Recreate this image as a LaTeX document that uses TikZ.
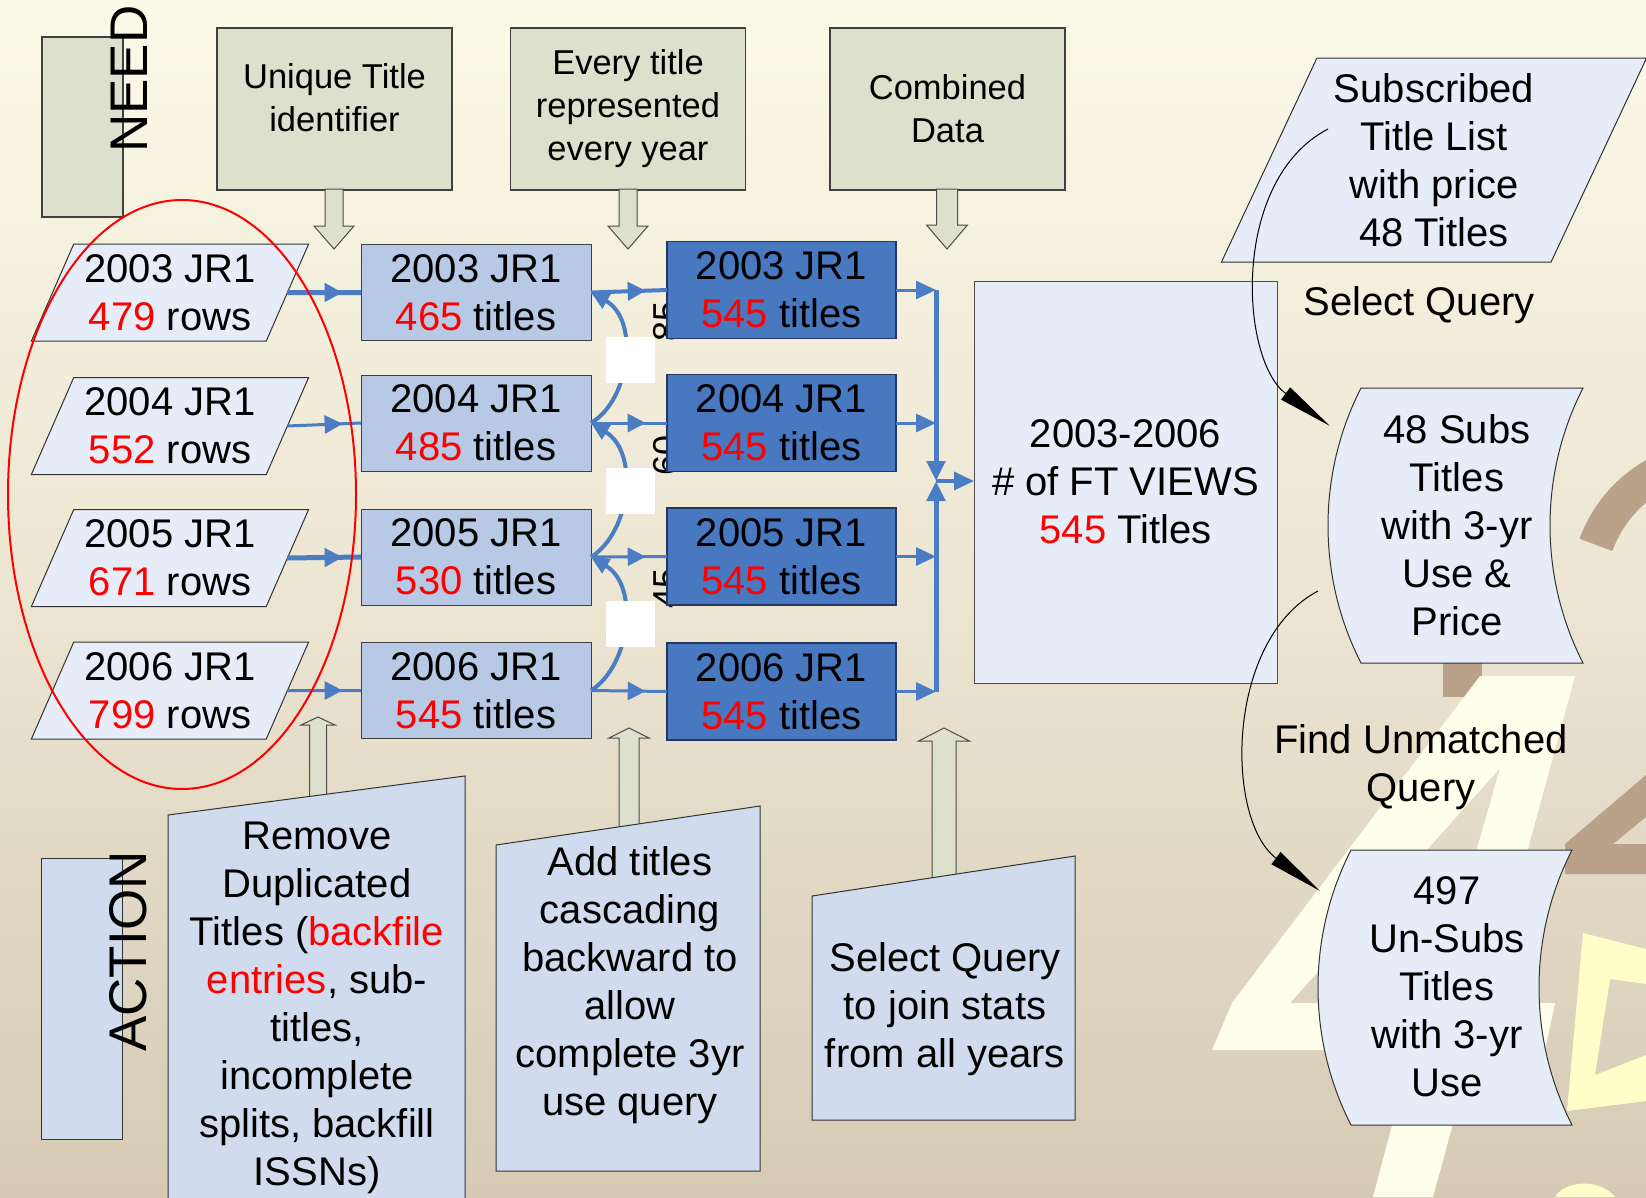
\documentclass[tikz,border=0pt]{standalone}
\usepackage{fontspec}
\setmainfont{Liberation Sans}
\usetikzlibrary{shapes.geometric,arrows.meta,decorations.markings}

\definecolor{bgtop}{RGB}{254,253,238}
\definecolor{bgupper}{RGB}{251,249,232}
\definecolor{bgmid}{RGB}{236,229,210}
\definecolor{bglow}{RGB}{214,202,180}
\definecolor{bgbot}{RGB}{196,180,158}
\definecolor{greenfill}{RGB}{221,224,204}
\definecolor{rawfill}{RGB}{230,237,248}
\definecolor{cleanfill}{RGB}{183,201,228}
\definecolor{fullfill}{RGB}{72,120,191}
\definecolor{fulledge}{RGB}{35,55,95}
\definecolor{flowblue}{RGB}{74,125,196}
\definecolor{actfill}{RGB}{208,220,238}
\definecolor{decotan}{RGB}{186,162,138}
\definecolor{decocream}{RGB}{255,254,234}
\definecolor{decoyellow}{RGB}{255,253,200}

\pgfdeclareverticalshading{bgshade}{100bp}{color(0bp)=(bgbot); color(25bp)=(bglow); color(50bp)=(bgmid); color(75bp)=(bgupper); color(100bp)=(bgtop)}

% block arrow: x, base y, head base y, tip y, shaft width, head width
\newcommand{\fatarrow}[6]{%
	\filldraw[fatarr] ({#1-#5/2},#2) -- ({#1-#5/2},#3) -- ({#1-#6/2},#3) -- (#1,#4)
		-- ({#1+#6/2},#3) -- ({#1+#5/2},#3) -- ({#1+#5/2},#2) -- cycle;}

\begin{document}
\begin{tikzpicture}[x=1pt,y=-1pt,inner sep=0pt,outer sep=0pt,
	txt/.style={font=\fontsize{40}{48}\selectfont,align=center},
	greenbox/.style={draw=black!75,line width=1.2pt,fill=greenfill,minimum width=235,minimum height=162,font=\fontsize{34.5}{43}\selectfont,align=center},
	rawbox/.style={trapezium,trapezium left angle=63.7,trapezium right angle=116.3,trapezium stretches=true,draw=black!80,line width=1pt,fill=rawfill,minimum width=278,minimum height=97,txt},
	cleanbox/.style={draw=black!75,line width=1pt,fill=cleanfill,minimum width=230,minimum height=96,txt},
	fullbox/.style={draw=fulledge,line width=1.3pt,fill=fullfill,minimum width=229,minimum height=97,txt},
	gapbox/.style={fill=white,minimum width=49,minimum height=46},
	added/.style={rotate=90,font=\fontsize{36}{40}\selectfont},
	flow/.style={draw=flowblue,line width=3pt},
	midtip/.style={postaction={decorate},decoration={markings,mark=at position #1 with {\arrow{Triangle[length=18pt,width=18pt]}}}},
	fatarr/.style={draw=black!70,line width=1pt,fill=greenfill},
	actshape/.style={draw=black!80,line width=1pt,fill=actfill},
	lightshape/.style={draw=black!80,line width=1pt,fill=rawfill},
	link/.style={draw=black,line width=1pt,-{Triangle[length=55pt,width=15pt]}}]
	\useasboundingbox (0,0) rectangle (1646,1197);
	\clip (0,0) rectangle (1646,1197);
	\shade[shading=bgshade] (0,0) rectangle (1646,1197);

	% background figures
	\draw[decotan,line width=35pt] (1720,590) ++(200:132) arc[start angle=200,end angle=280,radius=132];
	\fill[decotan] (1443,663) rectangle (1482,697);
	\fill[decotan] (1565,874) -- (1565,844) -- (1646,775) -- (1646,817) -- (1613,844) -- (1646,844) -- (1646,874) -- cycle;
	\fill[decocream,even odd rule] (1480,676) -- (1575,676) -- (1486,1003) -- (1555,1003) -- (1545,1050) -- (1473,1050)
		-- (1433,1197) -- (1373,1197) -- (1412,1050) -- (1212,1050) -- (1232,1003) -- cycle
		(1290,1003) -- (1500,768) -- (1433,1003) -- cycle;
	\fill[decoyellow] (1583,933) -- (1646,949) -- (1646,984) -- (1610,979) -- (1595,1075) -- (1646,1055)
		-- (1646,1101) -- (1567,1111) -- cycle;
	\fill[decoyellow] (1555,1197) .. controls (1565,1180) and (1600,1178) .. (1615,1197) -- cycle;

	% need row
	\node[greenbox,minimum width=81,minimum height=180] (needbox) at (82.5,127) {};
	\node[rotate=90,font=\fontsize{53}{60}\selectfont] (needtxt) at (129,79) {NEED};
	\node[greenbox,text depth=24pt] (uniq) at (334.5,109) {Unique Title\\identifier};
	\node[greenbox] (every) at (628,109) {Every title\\represented\\every year};
	\node[greenbox] (combo) at (947.5,109) {Combined\\Data};
	\fatarrow{334}{189}{226}{249}{18}{40}
	\fatarrow{628}{189}{226}{249}{18}{40}
	\fatarrow{947}{189}{225}{249}{21}{41}

	% raw reports
	\node[rawbox] (raw3) at (170,292.5) {2003 JR1\\\textcolor{red}{479} rows};
	\node[rawbox] (raw4) at (170,426) {2004 JR1\\\textcolor{red}{552} rows};
	\node[rawbox] (raw5) at (170,558) {2005 JR1\\\textcolor{red}{671} rows};
	\node[rawbox] (raw6) at (170,690.5) {2006 JR1\\\textcolor{red}{799} rows};

	% cleaned reports
	\node[cleanbox] (clean3) at (476,292.5) {2003 JR1\\\textcolor{red}{465} titles};
	\node[cleanbox] (clean4) at (476,423) {2004 JR1\\\textcolor{red}{485} titles};
	\node[cleanbox] (clean5) at (476,557) {2005 JR1\\\textcolor{red}{530} titles};
	\node[cleanbox] (clean6) at (476,690.5) {2006 JR1\\\textcolor{red}{545} titles};

	\draw[flow,line width=5pt,midtip=0.75] (raw3.east) -- (clean3.west);
	\draw[flow,midtip=0.75] (raw4.east) -- (clean4.west);
	\draw[flow,line width=5pt,midtip=0.75] (raw5.east) -- (clean5.west);
	\draw[flow,midtip=0.75] (raw6.east) -- (clean6.west);

	\draw[red,line width=2pt] (182,494.5) ellipse [x radius=174,y radius=294.5];

	% cascading backward
	\begin{scope}[flow,line width=4pt,-{Triangle[length=18pt,width=16pt]}]
	\draw (clean4.east) .. controls (630,400) and (640,320) .. (clean3.east);
	\draw (clean5.east) .. controls (630,533) and (640,453) .. (clean4.east);
	\draw (clean6.east) .. controls (630,666) and (640,586) .. (clean5.east);
	\end{scope}
	\node[gapbox] (gap1) at (630.5,360) {};
	\node[gapbox] (gap2) at (630.5,490.5) {};
	\node[gapbox] (gap3) at (630.5,624) {};
	\node[added] (add3) at (666,321) {85};
	\node[added] (add4) at (666,455) {60};
	\node[added] (add5) at (666,588) {45};

	% full reports
	\node[fullbox] (full3) at (781.5,290) {2003 JR1\\\textcolor{red}{545} titles};
	\node[fullbox] (full4) at (781.5,423) {2004 JR1\\\textcolor{red}{545} titles};
	\node[fullbox] (full5) at (781.5,556.5) {2005 JR1\\\textcolor{red}{545} titles};
	\node[fullbox] (full6) at (781.5,691.5) {2006 JR1\\\textcolor{red}{545} titles};

	\draw[flow,line width=4pt,midtip=0.72] (clean3.east) -- (full3.west);
	\draw[flow,midtip=0.72] (clean4.east) -- (full4.west);
	\draw[flow,midtip=0.72] (clean5.east) -- (full5.west);
	\draw[flow,midtip=0.72] (clean6.east) -- (full6.west);

	% combined views
	\node[draw=black!70,line width=1pt,fill=rawfill,minimum width=303,minimum height=402,txt] (views) at (1125.5,482)
		{2003-2006\\\# of FT VIEWS\\\textcolor{red}{545} Titles};
	\coordinate (hub) at (936,481);
	\begin{scope}[flow,-{Triangle[length=20pt,width=18pt]}]
	\draw (full3.east) -- (full3.east -| hub);
	\draw (full4.east) -- (full4.east -| hub);
	\draw (full5.east) -- (full5.east -| hub);
	\draw (full6.east) -- (full6.east -| hub);
	\draw[line width=5pt] (full3.east -| hub) -- (hub);
	\draw[line width=5pt] (full6.east -| hub) -- (hub);
	\draw[line width=3.5pt] (hub) -- (views.west |- hub);
	\end{scope}

	% subscription side
	\node[trapezium,trapezium left angle=64.8,trapezium right angle=115.2,trapezium stretches=true,
		lightshape,minimum width=426,minimum height=204,txt] (sublist) at (1434,160)
		{Subscribed\\Title List\\with price\\48 Titles};
	\filldraw[lightshape] (1361,388) -- (1583,388) .. controls (1539,474) and (1539,577) .. (1583,663)
		-- (1361,663) .. controls (1317,577) and (1317,474) .. (1361,388) -- cycle;
	\node[txt] (subsuse) at (1457,525) {48 Subs\\Titles\\with 3-yr\\Use \&\\Price};
	\filldraw[lightshape] (1351,850) -- (1572,850) .. controls (1528,936) and (1528,1039) .. (1572,1125)
		-- (1351,1125) .. controls (1307,1039) and (1307,936) .. (1351,850) -- cycle;
	\node[txt] (unsubuse) at (1447,987) {497\\Un-Subs\\Titles\\with 3-yr\\Use};

	\coordinate (q1s) at (1328,129);
	\coordinate (q1e) at (1330,426);
	\coordinate (q2s) at (1318,591);
	\coordinate (q2e) at (1320,891);
	\draw[link] (q1s) .. controls (1230,180) and (1240,360) .. (q1e);
	\draw[link] (q2s) .. controls (1225,640) and (1225,820) .. (q2e);
	\node[txt] (selq) at (1419,305) {Select Query};
	\node[txt] (unmatch) at (1421,767) {Find Unmatched\\Query};

	% action row
	\fatarrow{318}{805}{725}{717}{17}{34}
	\fatarrow{629}{830}{738}{728}{20}{40}
	\fatarrow{944}{880}{741}{728}{24}{51}
	\node[actshape,minimum width=81,minimum height=281] (actbox) at (81.5,998.5) {};
	\node[rotate=90,font=\fontsize{53}{60}\selectfont] (acttxt) at (128,951.5) {ACTION};
	\filldraw[actshape] (168,815) -- (465,776) -- (465,1210) -- (168,1210) -- cycle;
	\node[txt] (remove) at (317,1008) {Remove\\Duplicated\\Titles (\textcolor{red}{backfile}\\\textcolor{red}{entries}, sub-\\titles,\\incomplete\\splits, backfill\\ISSNs)};
	\filldraw[actshape] (496,845) -- (760,806) -- (760,1171) -- (496,1171) -- cycle;
	\node[txt] (addtxt) at (630,985) {Add titles\\cascading\\backward to\\allow\\complete 3yr\\use query};
	\filldraw[actshape] (812,896) -- (1075,856) -- (1075,1120) -- (812,1120) -- cycle;
	\node[txt] (seltxt) at (945,1009) {Select Query\\to join stats\\from all years};
\end{tikzpicture}
\end{document}
